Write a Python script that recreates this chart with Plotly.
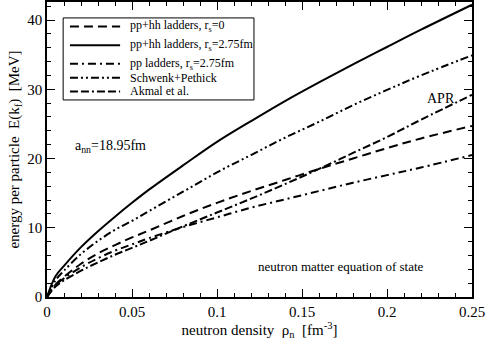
import plotly.graph_objects as go

# neutron density grid [fm^-3]
rho = [0, 0.005, 0.01, 0.02, 0.03, 0.04, 0.05, 0.06, 0.08, 0.10,
       0.12, 0.14, 0.16, 0.18, 0.20, 0.22, 0.25]

# energy per particle [MeV]
pphh_rs0 = [0, 1.8, 2.9, 4.8, 6.3, 7.5, 8.6, 9.6, 11.7, 13.6,
            15.3, 16.9, 18.5, 20.0, 21.5, 22.9, 24.7]
pphh_rs275 = [0, 3.0, 4.5, 7.2, 9.5, 11.6, 13.6, 15.5, 19.0, 22.4,
              25.4, 28.3, 31.0, 33.6, 36.1, 38.6, 42.2]
pp_rs275 = [0, 1.7, 2.7, 4.3, 5.6, 6.7, 7.6, 8.5, 10.1, 11.5,
            12.9, 14.1, 15.3, 16.5, 17.6, 18.7, 20.5]
schwenk = [0, 2.4, 3.8, 6.2, 8.1, 9.7, 11.0, 12.4, 15.2, 18.0,
           20.5, 23.0, 25.3, 27.7, 29.9, 32.0, 34.9]
akmal = [0, 1.5, 2.4, 3.8, 5.0, 6.1, 7.1, 8.1, 10.2, 12.2,
         14.2, 16.3, 18.5, 20.8, 23.1, 25.6, 29.2]

names = ["pp+hh ladders, r<sub>s</sub>=0",
         "pp+hh ladders, r<sub>s</sub>=2.75fm",
         "pp ladders, r<sub>s</sub>=2.75fm",
         "Schwenk+Pethick",
         "Akmal et al."]
series = [pphh_rs0, pphh_rs275, pp_rs275, schwenk, akmal]
dashes = ["9px,5px", "solid", "8px,4px,2px,4px",
          "8px,3px,2px,3px,2px,3px", "8px,3px,8px,3px,2px,3px"]

font = "Times New Roman"

fig = go.Figure()
for name, y, d in zip(names, series, dashes):
    fig.add_trace(go.Scatter(x=rho, y=y, mode="lines", name=name, showlegend=False,
                             line=dict(color="black", width=2, dash=d, shape="spline")))

# hand-made legend box (xmgrace style, tighter rows than plotly's legend)
fig.add_shape(type="rect", xref="paper", yref="paper", x0=0.038, x1=0.487,
              y0=0.668, y1=0.946, line=dict(color="black", width=1), fillcolor="white",
              layer="above")
row_y = [0.917, 0.853, 0.791, 0.743, 0.697]
for name, d, ry in zip(names, dashes, row_y):
    fig.add_shape(type="line", xref="paper", yref="paper", x0=0.054, x1=0.172,
                  y0=ry, y1=ry, line=dict(color="black", width=2, dash=d), layer="above")
    fig.add_annotation(xref="paper", yref="paper", x=0.19, y=ry, text=name,
                       showarrow=False, xanchor="left", yanchor="middle",
                       font=dict(family=font, size=12))

axis = dict(showline=True, linecolor="black", linewidth=1.5, mirror="allticks",
            ticks="inside", ticklen=8, tickcolor="black", showgrid=False,
            zeroline=False, automargin=False,
            tickfont=dict(family=font, size=15, color="black"))

fig.update_xaxes(axis, range=[0, 0.25], dtick=0.05, tickformat="~g",
                 minor=dict(dtick=0.01, ticks="inside", ticklen=4, tickcolor="black"),
                 title=dict(text="neutron density  ρ<sub>n</sub>  [fm<sup>-3</sup>]",
                            font=dict(family=font, size=15), standoff=4))
fig.update_yaxes(axis, range=[0, 42.6], dtick=10,
                 minor=dict(dtick=2, ticks="inside", ticklen=4, tickcolor="black"),
                 title=dict(text="energy per particle  E(k<sub>f</sub>)  [MeV]",
                            font=dict(family=font, size=15), standoff=4))

fig.add_annotation(x=0.0153, y=21.7, text="a<sub>nn</sub>=18.95fm", showarrow=False,
                   xanchor="left", font=dict(family=font, size=14))
fig.add_annotation(x=0.232, y=28.7, text="APR", showarrow=False,
                   font=dict(family=font, size=14))
fig.add_annotation(x=0.173, y=4.4, text="neutron matter equation of state",
                   showarrow=False, font=dict(family=font, size=13))

fig.update_layout(
    width=488, height=348,
    margin=dict(l=47, r=16, t=2, b=51),
    paper_bgcolor="white", plot_bgcolor="white",
    font=dict(family=font, color="black"),
    showlegend=False,
)

# page body has an 8px default margin; drop it so the figure sits at the corner
fig.write_html("out.html", config={"displayModeBar": False},
               post_script="document.body.style.margin='0';")
